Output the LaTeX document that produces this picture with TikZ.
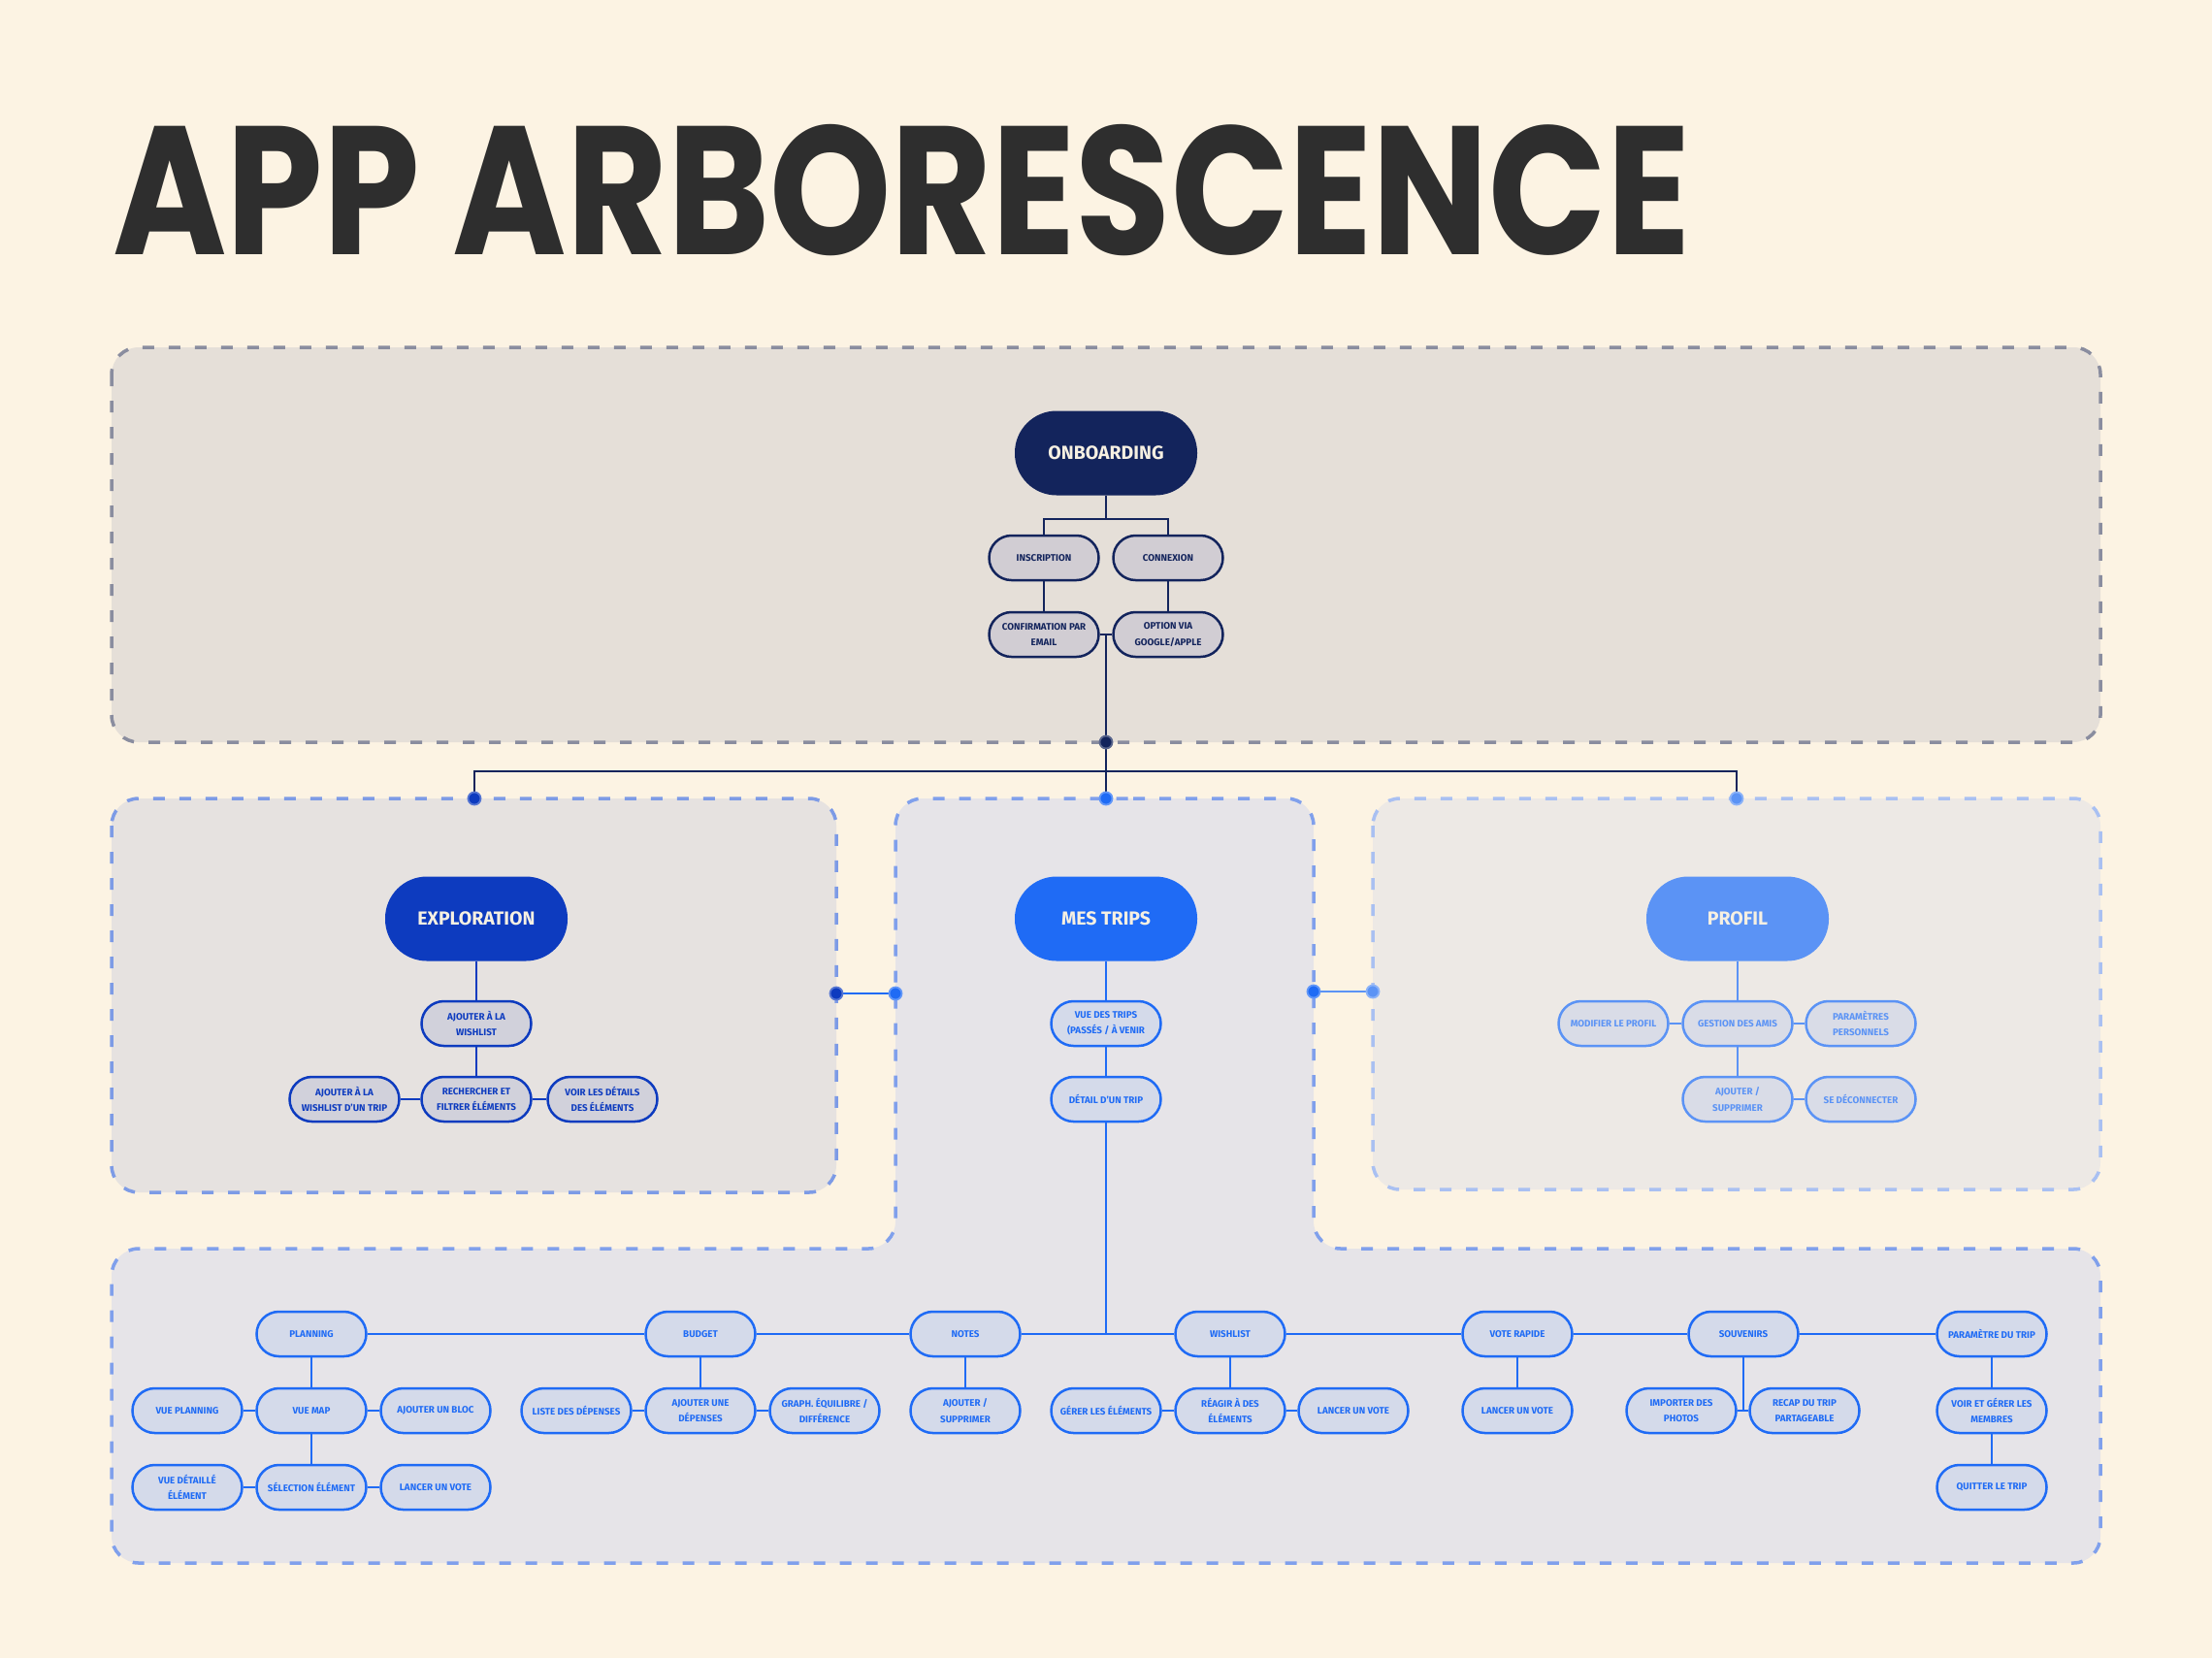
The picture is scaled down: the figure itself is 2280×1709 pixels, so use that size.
\documentclass[tikz,border=0pt]{standalone}
\usepackage{fontspec}
\usepackage{graphicx}
\setmainfont{Fira Sans}
\newfontfamily\titlefont{Poppins}
\definecolor{bg}{HTML}{FCF3E3}
\definecolor{titlec}{HTML}{2E2E2E}
\definecolor{navy}{HTML}{13245C}
\definecolor{navyfill}{HTML}{D1CDD3}
\definecolor{expb}{HTML}{0D3BBF}
\definecolor{expfill}{HTML}{D1D1DB}
\definecolor{tripb}{HTML}{1F6BF5}
\definecolor{tripfill}{HTML}{D4DAEA}
\definecolor{profb}{HTML}{5B93F5}
\definecolor{proffill}{HTML}{D9DCE7}
\definecolor{topbox}{HTML}{E5DFD8}
\definecolor{topborder}{HTML}{8A8D9F}
\definecolor{expbox}{HTML}{E6E2E0}
\definecolor{expborder}{HTML}{7D9BE6}
\definecolor{tripbox}{HTML}{E6E4E8}
\definecolor{tripborder}{HTML}{80A0EC}
\definecolor{profbox}{HTML}{EDE9E5}
\definecolor{profborder}{HTML}{A9C0F2}
\definecolor{cream}{HTML}{F6F0E2}
\newcommand{\bigfnt}{\fontsize{19.5}{22}\selectfont\bfseries}
\newcommand{\smallfnt}{\fontsize{9.8}{16.5}\selectfont\bfseries}
\begin{document}
\begin{tikzpicture}[x=1pt,y=-1pt,
  region/.style={rounded corners=28pt, dash pattern=on 12pt off 15pt, line width=3.5pt},
  bignode/.style={rectangle, rounded corners=43pt, minimum width=188pt, minimum height=87pt, font=\bigfnt, text=cream, inner sep=0pt},
  smallnode/.style={rectangle, rounded corners=23pt, minimum width=113pt, minimum height=46pt, line width=2.5pt, font=\smallfnt, align=center, inner sep=0pt},
  onn/.style={smallnode, draw=navy, fill=navyfill, text=navy},
  exn/.style={smallnode, draw=expb, fill=expfill, text=expb},
  trn/.style={smallnode, draw=tripb, fill=tripfill, text=tripb},
  prn/.style={smallnode, draw=profb, fill=proffill, text=profb},
  onl/.style={navy, line width=2.5pt},
  exl/.style={expb, line width=2.7pt},
  trl/.style={tripb, line width=2.7pt},
  prl/.style={profb, line width=2.7pt},
  dotc/.style={line width=1.8pt}]
\useasboundingbox (0,0) rectangle (2280,1709);
\fill[bg] (0,0) rectangle (2280,1709);

% title
\node[anchor=base west, inner sep=0pt, text=titlec] (title) at (116,262) {\resizebox{1625pt}{134pt}{\titlefont\bfseries APP ARBORESCENCE}};

% regions
\path[region, draw=topborder, fill=topbox] (115,358) rectangle (2165,765);
\path[region, draw=expborder, fill=expbox] (115,823) rectangle (862,1229);
\path[region, draw=profborder, fill=profbox] (1415,823) rectangle (2165,1226);
\path[region, draw=tripborder, fill=tripbox] (1140,823) -- (1354,823) -- (1354,1287) -- (2165,1287) -- (2165,1611) -- (115,1611) -- (115,1287) -- (923,1287) -- (923,823) -- cycle;

% onboarding
\node[bignode, fill=navy] (onb) at (1140,467) {ONBOARDING};
\node[onn] (insc) at (1076,575) {INSCRIPTION};
\node[onn] (conn) at (1204,575) {CONNEXION};
\node[onn] (conf) at (1076,654) {CONFIRMATION PAR\\EMAIL};
\node[onn] (opt) at (1204,654) {OPTION VIA\\GOOGLE/APPLE};
\coordinate (br) at (1140,535);
\coordinate (mid) at (1140,654);
\coordinate (d0) at (1140,765);
\coordinate (hc) at (1140,795);
\coordinate (d1) at (489,823);
\coordinate (d2) at (1140,823);
\coordinate (d3) at (1790,823);
\draw[onl] (onb) -- (br);
\draw[onl] (insc.north) |- (br) -| (conn.north);
\draw[onl] (insc) -- (conf);
\draw[onl] (conn) -- (opt);
\draw[onl] (conf.east) -- (opt.west);
\draw[onl] (mid) -- (d0) -- (d2);
\draw[onl] (d1) |- (hc) -| (d3);

% exploration
\node[bignode, fill=expb] (exp) at (491,947) {EXPLORATION};
\node[exn] (exw) at (491,1055) {AJOUTER À LA\\WISHLIST};
\node[exn] (exr) at (491,1133) {RECHERCHER ET\\FILTRER ÉLÉMENTS};
\node[exn] (exa) at (355,1133) {AJOUTER À LA\\WISHLIST D'UN TRIP};
\node[exn] (exv) at (621,1133) {VOIR LES DÉTAILS\\DES ÉLÉMENTS};
\draw[exl] (exp) -- (exw);
\draw[exl] (exw) -- (exr);
\draw[exl] (exr) -- (exa);
\draw[exl] (exr) -- (exv);

% profil
\node[bignode, fill=profb] (prof) at (1791,947) {PROFIL};
\node[prn] (gest) at (1791,1055) {GESTION DES AMIS};
\node[prn] (mod) at (1663,1055) {MODIFIER LE PROFIL};
\node[prn] (parp) at (1918,1055) {PARAMÈTRES\\PERSONNELS};
\node[prn] (padd) at (1791,1133) {AJOUTER /\\SUPPRIMER};
\node[prn] (deco) at (1918,1133) {SE DÉCONNECTER};
\draw[prl] (prof) -- (gest);
\draw[prl] (gest) -- (mod);
\draw[prl] (gest) -- (parp);
\draw[prl] (gest) -- (padd);
\draw[prl] (padd) -- (deco);

% mes trips
\node[bignode, fill=tripb] (trp) at (1140,947) {MES TRIPS};
\node[trn] (tv) at (1140,1055) {VUE DES TRIPS\\(PASSÉS / À VENIR};
\node[trn] (td) at (1140,1133) {DÉTAIL D'UN TRIP};
\coordinate (tj) at (1140,1374);
\draw[trl] (trp) -- (tv);
\draw[trl] (tv) -- (td);
\draw[trl] (td) -- (tj);

% bottom row 1
\node[trn] (plan) at (321,1375) {PLANNING};
\node[trn] (bud) at (722,1375) {BUDGET};
\node[trn] (notes) at (995,1375) {NOTES};
\node[trn] (wish) at (1268,1375) {WISHLIST};
\node[trn] (vote) at (1564,1375) {VOTE RAPIDE};
\node[trn] (souv) at (1797,1375) {SOUVENIRS};
\node[trn] (param) at (2053,1375) {PARAMÈTRE DU TRIP};
% row 2
\node[trn] (vplan) at (193,1454) {VUE PLANNING};
\node[trn] (vmap) at (321,1454) {VUE MAP};
\node[trn] (bloc) at (449,1454) {AJOUTER UN BLOC};
\node[trn] (ldep) at (594,1454) {LISTE DES DÉPENSES};
\node[trn] (adep) at (722,1454) {AJOUTER UNE\\DÉPENSES};
\node[trn] (graph) at (850,1454) {GRAPH. ÉQUILIBRE /\\DIFFÉRENCE};
\node[trn] (nadd) at (995,1454) {AJOUTER /\\SUPPRIMER};
\node[trn] (gerer) at (1140,1454) {GÉRER LES ÉLÉMENTS};
\node[trn] (react) at (1268,1454) {RÉAGIR À DES\\ÉLÉMENTS};
\node[trn] (lv2) at (1395,1454) {LANCER UN VOTE};
\node[trn] (lv3) at (1564,1454) {LANCER UN VOTE};
\node[trn] (imp) at (1733,1454) {IMPORTER DES\\PHOTOS};
\node[trn] (rec) at (1860,1454) {RECAP DU TRIP\\PARTAGEABLE};
\node[trn] (mem) at (2053,1454) {VOIR ET GÉRER LES\\MEMBRES};
% row 3
\node[trn] (vdet) at (193,1533) {VUE DÉTAILLÉ\\ÉLÉMENT};
\node[trn] (sel) at (321,1533) {SÉLECTION ÉLÉMENT};
\node[trn] (lv1) at (449,1533) {LANCER UN VOTE};
\node[trn] (quit) at (2053,1533) {QUITTER LE TRIP};
\coordinate (sj) at (1797,1454);

\draw[trl] (plan) -- (bud) -- (notes) -- (wish) -- (vote) -- (souv) -- (param);
\draw[trl] (plan) -- (vmap);
\draw[trl] (vmap) -- (sel);
\draw[trl] (vmap) -- (vplan);
\draw[trl] (vmap) -- (bloc);
\draw[trl] (sel) -- (vdet);
\draw[trl] (sel) -- (lv1);
\draw[trl] (bud) -- (adep);
\draw[trl] (adep) -- (ldep);
\draw[trl] (adep) -- (graph);
\draw[trl] (notes) -- (nadd);
\draw[trl] (wish) -- (react);
\draw[trl] (react) -- (gerer);
\draw[trl] (react) -- (lv2);
\draw[trl] (vote) -- (lv3);
\draw[trl] (souv) -- (sj);
\draw[trl] (imp.east) -- (rec.west);
\draw[trl] (param) -- (mem);
\draw[trl] (mem) -- (quit);

% links between regions
\coordinate (l1) at (862,1024);
\coordinate (l2) at (923,1024);
\coordinate (l3) at (1354,1022);
\coordinate (l4) at (1415,1022);
\draw[trl] (l1) -- (l2);
\draw[prl] (l3) -- (l4);

% dots
\filldraw[dotc, fill=navy, draw=navy!70!white] (d0) circle (6.5pt);
\filldraw[dotc, fill=expb, draw=expb!70!white] (d1) circle (6.5pt);
\filldraw[dotc, fill=tripb, draw=tripb!70!white] (d2) circle (6.5pt);
\filldraw[dotc, fill=profb, draw=profb!70!white] (d3) circle (6.5pt);
\filldraw[dotc, fill=expb, draw=expb!70!white] (l1) circle (6.5pt);
\filldraw[dotc, fill=tripb, draw=tripb!70!white] (l2) circle (6.5pt);
\filldraw[dotc, fill=tripb, draw=tripb!70!white] (l3) circle (6.5pt);
\filldraw[dotc, fill=profb, draw=profb!70!white] (l4) circle (6.5pt);
\end{tikzpicture}
\end{document}
